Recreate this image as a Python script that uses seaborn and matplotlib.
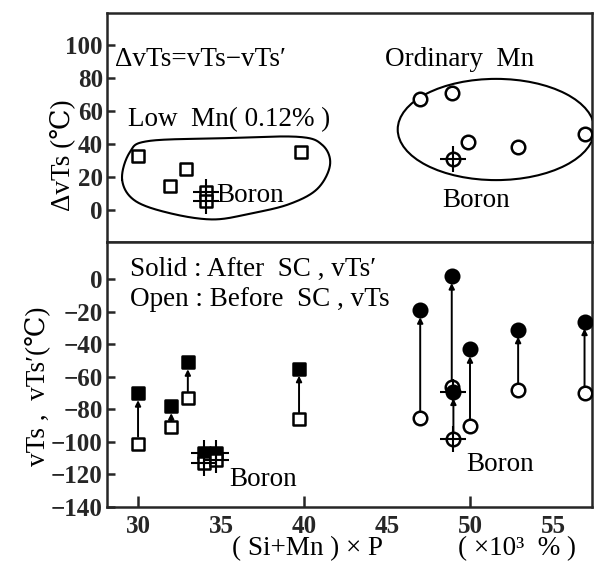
import numpy as np
import pandas as pd
import matplotlib
matplotlib.use("Agg")
import matplotlib.pyplot as plt
import seaborn as sns
from matplotlib.patches import Ellipse

# ---------------- data ----------------
# bottom panel: Low Mn (squares)
low_x = [30.0, 32.0, 33.0, 39.7]
low_before = [-101, -91, -73, -86]
low_after = [-70, -78, -51, -55]
low_boron_x = [34.0, 34.7]
low_boron_before = [-113, -111]
low_boron_after = [-107, -107]
# bottom panel: Ordinary Mn (circles)
ord_x = [47.0, 48.9, 50.0, 52.9, 56.9]
ord_before = [-85, -66, -90, -68, -70]
ord_after = [-19, 2, -43, -31, -26]
ord_boron_x = [49.0]
ord_boron_before = [-98]
ord_boron_after = [-69]
# top panel: delta vTs
d_low_x = [30.0, 31.9, 32.9, 39.8]
d_low_y = [33, 15, 25, 35]
d_low_boron_x = [34.1, 34.1]
d_low_boron_y = [11, 6]
d_ord_x = [47.0, 48.9, 49.9, 52.9, 56.9]
d_ord_y = [67, 71, 41, 38, 46]
d_ord_boron_x = [49.0]
d_ord_boron_y = [31]

x_ticks = [30, 35, 40, 45, 50, 55]
top_yticks = [0, 20, 40, 60, 80, 100]
bot_yticks = [0, -20, -40, -60, -80, -100, -120, -140]

# ---------------- style ----------------
sns.set_style("ticks")
SERIF = ["Liberation Serif", "DejaVu Serif"]
plt.rcParams["font.family"] = SERIF
plt.rcParams["axes.linewidth"] = 1.8

fig = plt.figure(figsize=(5.94, 5.70), dpi=100)
L, R = 107 / 594, 592 / 594
y_top, y_mid, y_bot = 1 - 13 / 570, 1 - 242 / 570, 1 - 507 / 570
ax1 = fig.add_axes([L, y_mid, R - L, y_top - y_mid])
ax2 = fig.add_axes([L, y_bot, R - L, y_mid - y_bot])

XLIM = (28.13, 57.35)
TXT = dict(fontsize=19.5, family=SERIF, color="black")
TICKFONT = dict(fontsize=18, fontweight="bold")

SQ = dict(marker="s", s=70, linewidth=1.8, edgecolor="black", zorder=4)
CI = dict(marker="o", s=95, linewidth=1.8, edgecolor="black", zorder=4)
CROSS = dict(marker="+", s=330, linewidth=1.5, color="black", zorder=5)

# ---------------- top panel ----------------
sns.scatterplot(x=d_low_x, y=d_low_y, ax=ax1, color="white", **SQ)
sns.scatterplot(x=d_low_boron_x, y=d_low_boron_y, ax=ax1, color="white", **SQ)
ax1.scatter(d_low_boron_x, d_low_boron_y, **CROSS)
sns.scatterplot(x=d_ord_x, y=d_ord_y, ax=ax1, color="white", **CI)
sns.scatterplot(x=d_ord_boron_x, y=d_ord_boron_y, ax=ax1, color="white", **CI)
ax1.scatter(d_ord_boron_x, d_ord_boron_y, **CROSS)


def closed_spline(pts, n=40):
    P = np.asarray(pts, float)
    m = len(P)
    t = np.linspace(0, 1, n, endpoint=False)[:, None]
    out = []
    for i in range(m):
        p0, p1, p2, p3 = P[i - 1], P[i], P[(i + 1) % m], P[(i + 2) % m]
        out.append(0.5 * (2 * p1 + (-p0 + p2) * t
                          + (2 * p0 - 5 * p1 + 4 * p2 - p3) * t ** 2
                          + (-p0 + 3 * p1 - 3 * p2 + p3) * t ** 3))
    out = np.vstack(out)
    return np.vstack([out, out[:1]])


outline = closed_spline([(29.04, 18.7), (29.5, 35.0), (30.6, 41.8), (35.0, 43.5),
                         (39.6, 44.4), (41.1, 39.5), (41.57, 27.7), (40.8, 13.0),
                         (39.1, 3.8), (36.8, -1.8), (34.5, -5.4), (31.9, -1.6),
                         (29.8, 6.0)])
ax1.plot(outline[:, 0], outline[:, 1], color="black", lw=1.5, zorder=3)
ax1.add_patch(Ellipse((51.57, 48.8), 11.85, 61.0, fill=False, ec="black", lw=1.5, zorder=3))

ax1.text(28.6, 91, "ΔvTs=vTs−vTs′", va="center", ha="left", **TXT)
ax1.text(44.9, 91, "Ordinary  Mn", va="center", ha="left", **TXT)
ax1.text(29.4, 55, "Low  Mn( 0.12% )", va="center", ha="left", **TXT)
ax1.text(34.7, 9, "Boron", va="center", ha="left", **TXT)
ax1.text(48.3, 6, "Boron", va="center", ha="left", **TXT)

ax1.set_xlim(XLIM)
ax1.set_ylim(-19, 119)
ax1.set_yticks(top_yticks)
ax1.set_yticklabels([str(v) for v in top_yticks], **TICKFONT)
ax1.tick_params(axis="y", direction="in", length=6, width=1.8, pad=3)
ax1.tick_params(axis="x", length=0, labelbottom=False)

# ---------------- bottom panel ----------------
ARW = dict(arrowstyle="-|>", color="black", lw=1.4, mutation_scale=8)


def arrows(ax, xs, before, after):
    for x, b, a in zip(xs, before, after):
        ax.annotate("", xy=(x, a), xytext=(x, b),
                    arrowprops=dict(shrinkA=5, shrinkB=5, **ARW), zorder=2)


arrows(ax2, low_x, low_before, low_after)
arrows(ax2, ord_x, ord_before, ord_after)
arrows(ax2, ord_boron_x, ord_boron_before, ord_boron_after)

sns.scatterplot(x=low_x, y=low_before, ax=ax2, color="white", **SQ)
sns.scatterplot(x=low_x, y=low_after, ax=ax2, color="black", **SQ)
ax2.scatter(low_boron_x, low_boron_after, **CROSS)
ax2.scatter(low_boron_x, low_boron_before, **CROSS)
sns.scatterplot(x=low_boron_x, y=low_boron_after, ax=ax2, color="black", **SQ)
sns.scatterplot(x=low_boron_x, y=low_boron_before, ax=ax2, color="white", **SQ)

sns.scatterplot(x=ord_x, y=ord_before, ax=ax2, color="white", **CI)
sns.scatterplot(x=ord_x, y=ord_after, ax=ax2, color="black", **CI)
ax2.scatter(ord_boron_x, ord_boron_before, **CROSS)
ax2.scatter(ord_boron_x, ord_boron_after, **CROSS)
sns.scatterplot(x=ord_boron_x, y=ord_boron_before, ax=ax2, color="white", **CI)
sns.scatterplot(x=ord_boron_x, y=ord_boron_after, ax=ax2, color="black", **CI)

ax2.text(29.5, 6, "Solid : After  SC , vTs′", va="center", ha="left", **TXT)
ax2.text(29.5, -12.5, "Open : Before  SC , vTs", va="center", ha="left", **TXT)
ax2.text(35.5, -123, "Boron", va="center", ha="left", **TXT)
ax2.text(49.8, -114, "Boron", va="center", ha="left", **TXT)

ax2.set_xlim(XLIM)
ax2.set_ylim(-140, 23)
ax2.set_yticks(bot_yticks)
ax2.set_yticklabels([f"{v}".replace("-", "−") for v in bot_yticks], **TICKFONT)
ax2.set_xticks(x_ticks)
ax2.set_xticklabels([str(v) for v in x_ticks], **TICKFONT)
ax2.tick_params(axis="y", direction="in", length=6, width=1.8, pad=3)
ax2.tick_params(axis="x", direction="in", length=8, width=1.8, pad=6)
for tk, v in zip(ax2.xaxis.get_major_ticks(), x_ticks):
    if v % 10:
        tk.tick1line.set_visible(False)

for ax in (ax1, ax2):
    for sp in ax.spines.values():
        sp.set_visible(True)
        sp.set_linewidth(1.8)

fig.text(307 / 594, 1 - 549 / 570, "( Si+Mn ) × P", ha="center", va="center", **TXT)
fig.text(517 / 594, 1 - 549 / 570, "( ×10³  % )", ha="center", va="center", **TXT)
fig.text(62 / 594, 1 - 155 / 570, "ΔvTs (℃)", rotation=90, ha="center", va="center", **TXT)
fig.text(37 / 594, 1 - 386 / 570, "vTs ,  vTs′(℃)", rotation=90, ha="center", va="center", **TXT)

fig.savefig("out.png", dpi=100)
